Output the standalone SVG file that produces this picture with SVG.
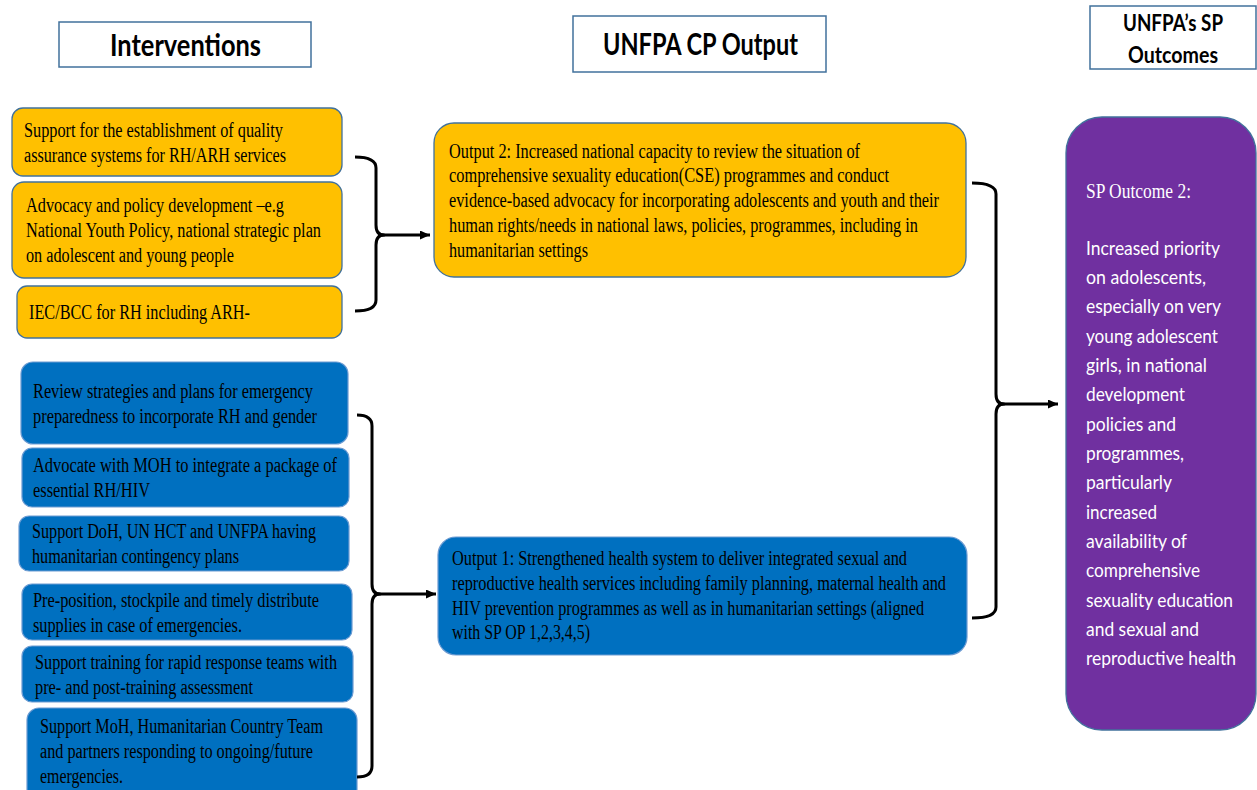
<svg xmlns="http://www.w3.org/2000/svg" width="1257" height="790" viewBox="0 0 1257 790">
<defs>
<style>
.hd{fill:#fff;stroke:#41719C;stroke-width:1.5}
.yb{fill:#FFC000;stroke:#41719C;stroke-width:1.3}
.bb{fill:#0070C0;stroke:#6C9BD2;stroke-width:1.2}
.pb{fill:#7030A0;stroke:#41719C;stroke-width:1.3}
.t{font-family:"Liberation Serif","Times New Roman",serif;font-size:20px;fill:#000}
.ts{font-family:"Liberation Serif","Times New Roman",serif;font-size:20px;fill:#fff}
.w{font-family:Lato,"Open Sans",sans-serif;font-size:19px;fill:#fff}
.h{font-family:Lato,"Open Sans",sans-serif;font-weight:bold;font-size:30px;fill:#000}
.h2{font-family:Lato,"Open Sans",sans-serif;font-weight:bold;font-size:22px;fill:#000}
.c{fill:none;stroke:#000;stroke-width:3;stroke-linejoin:round}
.a{fill:none;stroke:#000;stroke-width:3}
</style>
<marker id="arr" markerUnits="userSpaceOnUse" markerWidth="11" markerHeight="9" refX="10" refY="4.5" orient="auto">
<path d="M0,0 L10,4.5 L0,9 z" fill="#000"/>
</marker>
</defs>

<g id="hdr-interventions">
<rect class="hd" x="59" y="22" width="252" height="45"/>
<text class="h" x="110" y="56" textLength="151" lengthAdjust="spacingAndGlyphs">Interventions</text>
</g>
<g id="hdr-output">
<rect class="hd" x="573" y="16" width="253" height="56"/>
<text class="h" x="603" y="55" textLength="195" lengthAdjust="spacingAndGlyphs">UNFPA CP Output</text>
</g>
<g id="hdr-outcomes">
<rect class="hd" x="1090" y="6" width="166" height="63"/>
<text class="h2" x="1123" y="31" textLength="100" lengthAdjust="spacingAndGlyphs">UNFPA’s SP</text>
<text class="h2" x="1128" y="63" textLength="90" lengthAdjust="spacingAndGlyphs">Outcomes</text>
</g>

<g id="int-y1">
<rect class="yb" x="12" y="108" width="330" height="68" rx="11"/>
<text class="t" x="24" y="137" textLength="259" lengthAdjust="spacingAndGlyphs">Support for the establishment of quality</text>
<text class="t" x="24" y="162" textLength="262" lengthAdjust="spacingAndGlyphs">assurance systems for RH/ARH services</text>
</g>
<g id="int-y2">
<rect class="yb" x="12" y="182" width="330" height="96" rx="12"/>
<text class="t" x="26" y="212" textLength="258" lengthAdjust="spacingAndGlyphs">Advocacy and policy development –e.g</text>
<text class="t" x="26" y="237" textLength="295" lengthAdjust="spacingAndGlyphs">National Youth Policy, national strategic plan</text>
<text class="t" x="26" y="262" textLength="208" lengthAdjust="spacingAndGlyphs">on adolescent and young people</text>
</g>
<g id="int-y3">
<rect class="yb" x="17" y="286" width="325" height="52" rx="10"/>
<text class="t" x="29" y="319" textLength="221" lengthAdjust="spacingAndGlyphs">IEC/BCC for RH including ARH-</text>
</g>

<g id="int-b1">
<rect class="bb" x="21" y="362" width="327" height="82" rx="12"/>
<text class="t" x="33" y="398" textLength="280" lengthAdjust="spacingAndGlyphs">Review strategies and plans for emergency</text>
<text class="t" x="33" y="423" textLength="284" lengthAdjust="spacingAndGlyphs">preparedness to incorporate RH and gender</text>
</g>
<g id="int-b2">
<rect class="bb" x="22" y="448" width="327" height="59" rx="10"/>
<text class="t" x="33" y="472" textLength="304" lengthAdjust="spacingAndGlyphs">Advocate with MOH to integrate a package of</text>
<text class="t" x="33" y="497" textLength="117" lengthAdjust="spacingAndGlyphs">essential RH/HIV</text>
</g>
<g id="int-b3">
<rect class="bb" x="19" y="516" width="330" height="55" rx="10"/>
<text class="t" x="32" y="538" textLength="284" lengthAdjust="spacingAndGlyphs">Support DoH, UN HCT and UNFPA having</text>
<text class="t" x="32" y="563" textLength="207" lengthAdjust="spacingAndGlyphs">humanitarian contingency plans</text>
</g>
<g id="int-b4">
<rect class="bb" x="22" y="584" width="330" height="56" rx="10"/>
<text class="t" x="33" y="607" textLength="286" lengthAdjust="spacingAndGlyphs">Pre-position, stockpile and timely distribute</text>
<text class="t" x="33" y="632" textLength="209" lengthAdjust="spacingAndGlyphs">supplies in case of emergencies.</text>
</g>
<g id="int-b5">
<rect class="bb" x="22" y="646" width="331" height="56" rx="10"/>
<text class="t" x="35" y="669" textLength="302" lengthAdjust="spacingAndGlyphs">Support training for rapid response teams with</text>
<text class="t" x="35" y="694" textLength="218" lengthAdjust="spacingAndGlyphs">pre- and post-training assessment</text>
</g>
<g id="int-b6">
<rect class="bb" x="27" y="708" width="330" height="100" rx="12"/>
<text class="t" x="40" y="733" textLength="283" lengthAdjust="spacingAndGlyphs">Support MoH, Humanitarian Country Team</text>
<text class="t" x="40" y="758" textLength="273" lengthAdjust="spacingAndGlyphs">and partners responding to ongoing/future</text>
<text class="t" x="40" y="783" textLength="83" lengthAdjust="spacingAndGlyphs">emergencies.</text>
</g>

<g id="output2">
<rect class="yb" x="434" y="123" width="532" height="154" rx="20"/>
<text class="t" x="449" y="158" textLength="411" lengthAdjust="spacingAndGlyphs">Output 2: Increased national capacity to review the situation of</text>
<text class="t" x="449" y="182" textLength="440" lengthAdjust="spacingAndGlyphs">comprehensive sexuality education(CSE) programmes and conduct</text>
<text class="t" x="449" y="207" textLength="490" lengthAdjust="spacingAndGlyphs">evidence-based advocacy for incorporating adolescents and youth and their</text>
<text class="t" x="449" y="232" textLength="469" lengthAdjust="spacingAndGlyphs">human rights/needs in national laws, policies, programmes, including in</text>
<text class="t" x="449" y="257" textLength="139" lengthAdjust="spacingAndGlyphs">humanitarian settings</text>
</g>
<g id="output1">
<rect class="bb" x="438" y="537" width="529" height="118" rx="18"/>
<text class="t" x="452" y="565" textLength="455" lengthAdjust="spacingAndGlyphs">Output 1: Strengthened health system to deliver integrated sexual and</text>
<text class="t" x="452" y="590" textLength="494" lengthAdjust="spacingAndGlyphs">reproductive health services including family planning, maternal health and</text>
<text class="t" x="452" y="615" textLength="472" lengthAdjust="spacingAndGlyphs">HIV prevention programmes as well as in humanitarian settings (aligned</text>
<text class="t" x="452" y="639" textLength="138" lengthAdjust="spacingAndGlyphs">with SP OP 1,2,3,4,5)</text>
</g>

<g id="outcome2">
<rect class="pb" x="1066" y="117" width="190" height="613" rx="36"/>
<text class="ts" x="1086" y="198" textLength="105" lengthAdjust="spacingAndGlyphs">SP Outcome 2:</text>
<text class="w" x="1086" y="255" textLength="134" lengthAdjust="spacingAndGlyphs">Increased priority</text>
<text class="w" x="1086" y="284" textLength="120" lengthAdjust="spacingAndGlyphs">on adolescents,</text>
<text class="w" x="1086" y="313" textLength="135" lengthAdjust="spacingAndGlyphs">especially on very</text>
<text class="w" x="1086" y="343" textLength="132" lengthAdjust="spacingAndGlyphs">young adolescent</text>
<text class="w" x="1086" y="372" textLength="121" lengthAdjust="spacingAndGlyphs">girls, in national</text>
<text class="w" x="1086" y="401" textLength="99" lengthAdjust="spacingAndGlyphs">development</text>
<text class="w" x="1086" y="431" textLength="90" lengthAdjust="spacingAndGlyphs">policies and</text>
<text class="w" x="1086" y="460" textLength="98" lengthAdjust="spacingAndGlyphs">programmes,</text>
<text class="w" x="1086" y="489" textLength="86" lengthAdjust="spacingAndGlyphs">particularly</text>
<text class="w" x="1086" y="519" textLength="71" lengthAdjust="spacingAndGlyphs">increased</text>
<text class="w" x="1086" y="548" textLength="101" lengthAdjust="spacingAndGlyphs">availability of</text>
<text class="w" x="1086" y="577" textLength="114" lengthAdjust="spacingAndGlyphs">comprehensive</text>
<text class="w" x="1086" y="607" textLength="147" lengthAdjust="spacingAndGlyphs">sexuality education</text>
<text class="w" x="1086" y="636" textLength="113" lengthAdjust="spacingAndGlyphs">and sexual and</text>
<text class="w" x="1086" y="665" textLength="150" lengthAdjust="spacingAndGlyphs">reproductive health</text>
</g>

<g id="connectors">
<path class="c" d="M355,157 Q376,157 376,168 V225 Q376,235 384,235 Q376,235 376,245 V300 Q376,311 355,311"/>
<line class="a" x1="378" y1="235" x2="430" y2="235" marker-end="url(#arr)"/>
<path class="c" d="M357,415 Q372,415 372,426 V584 Q372,594 380,594 Q372,594 372,604 V766 Q372,777 357,777"/>
<line class="a" x1="374" y1="594" x2="436" y2="594" marker-end="url(#arr)"/>
<path class="c" d="M972,183 Q996,183 996,194 V394 Q996,404 1004,404 Q996,404 996,414 V607 Q996,618 972,618"/>
<line class="a" x1="998" y1="404" x2="1058" y2="404" marker-end="url(#arr)"/>
</g>
</svg>
